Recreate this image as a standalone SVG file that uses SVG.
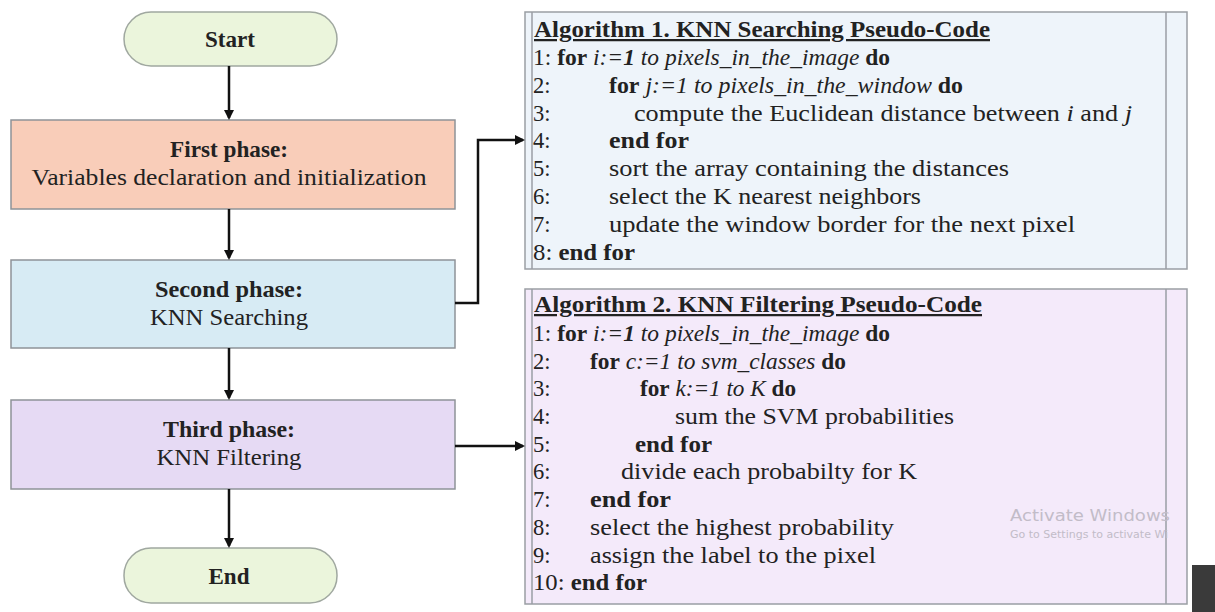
<svg xmlns="http://www.w3.org/2000/svg" width="1215" height="612" viewBox="0 0 1215 612">
<defs>
<marker id="ah" markerWidth="10" markerHeight="10" refX="8" refY="5" orient="auto" markerUnits="userSpaceOnUse">
<path d="M0,0 L10,5 L0,10 Z" fill="#111"/>
</marker>
<style>
.t{font-family:"Liberation Serif","Times New Roman",serif;fill:#222;}
.fc{font-size:23px;text-anchor:middle;}
.b{font-weight:bold;}
.i{font-style:italic;}
.code{font-size:22.5px;}
.ttl{font-weight:bold;text-decoration:underline;}
.pill{fill:#ebf5dc;stroke:#a0a8a0;stroke-width:1.5;}
.box{stroke:#8e9398;stroke-width:1.5;}
.alg{stroke:#9a9ea4;stroke-width:1.5;}
.con{fill:none;stroke:#111;stroke-width:2.5;}
.wm{font-family:"DejaVu Sans","Liberation Sans",sans-serif;fill:#c2bcc8;}
</style>
</defs>
<rect width="1215" height="612" fill="#ffffff"/>

<g id="start">
<rect class="pill" x="124" y="12" width="213" height="54" rx="27"/>
<text class="t fc b" x="230" y="47" textLength="50" lengthAdjust="spacingAndGlyphs">Start</text>
</g>

<g id="first-phase">
<rect class="box" x="11" y="120" width="444" height="89" fill="#f9cdb9"/>
<text class="t fc b" x="229" y="157" textLength="118" lengthAdjust="spacingAndGlyphs">First phase:</text>
<text class="t fc" x="229" y="185" textLength="395" lengthAdjust="spacingAndGlyphs">Variables declaration and initialization</text>
</g>

<g id="second-phase">
<rect class="box" x="11" y="260" width="444" height="88" fill="#d7ebf4"/>
<text class="t fc b" x="229" y="297" textLength="148" lengthAdjust="spacingAndGlyphs">Second phase:</text>
<text class="t fc" x="229" y="325" textLength="158" lengthAdjust="spacingAndGlyphs">KNN Searching</text>
</g>

<g id="third-phase">
<rect class="box" x="11" y="400" width="444" height="89" fill="#e6daf4"/>
<text class="t fc b" x="229" y="437" textLength="132" lengthAdjust="spacingAndGlyphs">Third phase:</text>
<text class="t fc" x="229" y="465" textLength="145" lengthAdjust="spacingAndGlyphs">KNN Filtering</text>
</g>

<g id="end">
<rect class="pill" x="124" y="548" width="213" height="55" rx="27"/>
<text class="t fc b" x="229" y="584" textLength="41" lengthAdjust="spacingAndGlyphs">End</text>
</g>

<g id="algorithm-1">
<rect class="alg" x="525" y="12" width="662" height="257" fill="#eef4fa"/>
<line class="alg" x1="532" y1="12" x2="532" y2="269"/>
<line class="alg" x1="1166" y1="12" x2="1166" y2="269"/>
<text class="t code ttl" x="534" y="37" textLength="456" lengthAdjust="spacingAndGlyphs">Algorithm 1. KNN Searching Pseudo-Code</text>
<text class="t code" x="533" y="65" textLength="357" lengthAdjust="spacingAndGlyphs">1: <tspan class="b">for</tspan> <tspan class="i">i:=</tspan><tspan class="i b">1</tspan><tspan class="i"> to pixels_in_the_image</tspan> <tspan class="b">do</tspan></text>
<text class="t code" x="533" y="93">2:</text>
<text class="t code" x="609" y="93" textLength="354" lengthAdjust="spacingAndGlyphs"><tspan class="b">for</tspan> <tspan class="i">j:=1 to pixels_in_the_window</tspan> <tspan class="b">do</tspan></text>
<text class="t code" x="533" y="121">3:</text>
<text class="t code" x="634" y="121" textLength="498" lengthAdjust="spacingAndGlyphs">compute the Euclidean distance between <tspan class="i">i</tspan> and <tspan class="i">j</tspan></text>
<text class="t code" x="533" y="148">4:</text>
<text class="t code b" x="609" y="148" textLength="80" lengthAdjust="spacingAndGlyphs">end for</text>
<text class="t code" x="533" y="176">5:</text>
<text class="t code" x="609" y="176" textLength="400" lengthAdjust="spacingAndGlyphs">sort the array containing the distances</text>
<text class="t code" x="533" y="204">6:</text>
<text class="t code" x="609" y="204" textLength="312" lengthAdjust="spacingAndGlyphs">select the K nearest neighbors</text>
<text class="t code" x="533" y="232">7:</text>
<text class="t code" x="609" y="232" textLength="466" lengthAdjust="spacingAndGlyphs">update the window border for the next pixel</text>
<text class="t code" x="533" y="260" textLength="102" lengthAdjust="spacingAndGlyphs">8: <tspan class="b">end for</tspan></text>
</g>

<g id="algorithm-2">
<rect class="alg" x="525" y="289" width="662" height="315" fill="#f4eafa"/>
<line class="alg" x1="532" y1="289" x2="532" y2="604"/>
<line class="alg" x1="1166" y1="289" x2="1166" y2="604"/>
<text class="t code ttl" x="534" y="312" textLength="448" lengthAdjust="spacingAndGlyphs">Algorithm 2. KNN Filtering Pseudo-Code</text>
<text class="t code" x="533" y="341" textLength="357" lengthAdjust="spacingAndGlyphs">1: <tspan class="b">for</tspan> <tspan class="i">i:=</tspan><tspan class="i b">1</tspan><tspan class="i"> to pixels_in_the_image</tspan> <tspan class="b">do</tspan></text>
<text class="t code" x="533" y="369">2:</text>
<text class="t code" x="590" y="369" textLength="256" lengthAdjust="spacingAndGlyphs"><tspan class="b">for</tspan> <tspan class="i">c:=1 to svm_classes</tspan> <tspan class="b">do</tspan></text>
<text class="t code" x="533" y="396">3:</text>
<text class="t code" x="640" y="396" textLength="156" lengthAdjust="spacingAndGlyphs"><tspan class="b">for</tspan> <tspan class="i">k:=1 to K</tspan> <tspan class="b">do</tspan></text>
<text class="t code" x="533" y="424">4:</text>
<text class="t code" x="675" y="424" textLength="279" lengthAdjust="spacingAndGlyphs">sum the SVM probabilities</text>
<text class="t code" x="533" y="452">5:</text>
<text class="t code b" x="635" y="452" textLength="77" lengthAdjust="spacingAndGlyphs">end for</text>
<text class="t code" x="533" y="479">6:</text>
<text class="t code" x="621" y="479" textLength="296" lengthAdjust="spacingAndGlyphs">divide each probabilty for K</text>
<text class="t code" x="533" y="507">7:</text>
<text class="t code b" x="590" y="507" textLength="81" lengthAdjust="spacingAndGlyphs">end for</text>
<text class="t code" x="533" y="535">8:</text>
<text class="t code" x="590" y="535" textLength="304" lengthAdjust="spacingAndGlyphs">select the highest probability</text>
<text class="t code" x="533" y="563">9:</text>
<text class="t code" x="590" y="563" textLength="286" lengthAdjust="spacingAndGlyphs">assign the label to the pixel</text>
<text class="t code" x="533" y="590" textLength="114" lengthAdjust="spacingAndGlyphs">10: <tspan class="b">end for</tspan></text>
</g>

<g id="connectors">
<line class="con" x1="229" y1="66" x2="229" y2="118" marker-end="url(#ah)"/>
<line class="con" x1="229" y1="209" x2="229" y2="258" marker-end="url(#ah)"/>
<line class="con" x1="229" y1="348" x2="229" y2="398" marker-end="url(#ah)"/>
<line class="con" x1="229" y1="489" x2="229" y2="546" marker-end="url(#ah)"/>
<polyline class="con" points="455,303 478,303 478,140 523,140" marker-end="url(#ah)"/>
<line class="con" x1="455" y1="446" x2="523" y2="446" marker-end="url(#ah)"/>
</g>

<g id="watermark">
<text class="wm" x="1010" y="521" font-size="16" textLength="160" lengthAdjust="spacingAndGlyphs">Activate Windows</text>
<text class="wm" x="1010" y="538" font-size="11">Go to Settings to activate Wi</text>
<rect x="1192" y="565" width="23" height="47" fill="#3a3a3a"/>
</g>
</svg>
